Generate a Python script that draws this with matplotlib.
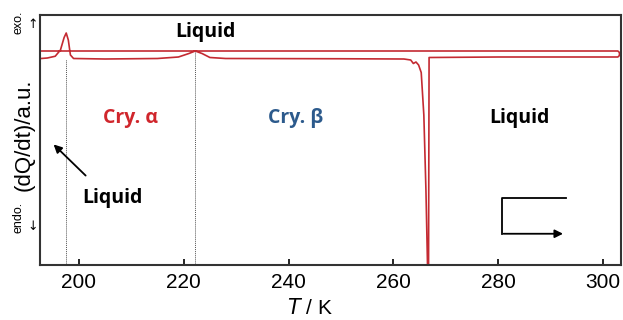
import matplotlib.pyplot as plt

# DSC trace (lower branch + loop back on upper branch), arbitrary units
temp = [192.8, 194.0, 195.5, 196.5, 197.2, 197.6, 198.0, 198.4, 199.0, 205.0, 215.0,
        219.0, 221.0, 222.2, 223.5, 225.0, 228.0, 250.0, 262.0, 263.3, 263.8, 264.3,
        264.8, 265.3, 265.8, 266.2, 266.5, 266.7, 266.8, 280.0, 302.8, 303.1, 303.1,
        302.8, 192.6]
signal = [0.826, 0.828, 0.835, 0.86, 0.91, 0.928, 0.90, 0.84, 0.826, 0.824, 0.826,
          0.832, 0.846, 0.856, 0.846, 0.830, 0.826, 0.825, 0.824, 0.82, 0.806, 0.812,
          0.800, 0.77, 0.6, 0.3, 0.0, 0.0, 0.83, 0.832, 0.832, 0.838, 0.850,
          0.856, 0.856]

transitions = [197.6, 222.2]
transition_tops = [0.826, 0.856]
xticks = [200, 220, 240, 260, 280, 300]

bold = ["Open Sans", "DejaVu Sans"]

fig = plt.figure(figsize=(6.23, 3.2), dpi=100)
ax = fig.add_axes([40 / 623, 55 / 320, 581 / 623, 250 / 320])

ax.plot(temp, signal, color="#c42a32", lw=1.2)
for t, top in zip(transitions, transition_tops):
    ax.plot([t, t], [0, top], color="#555555", lw=0.7, ls=(0, (1, 1)))

ax.set_xlim(192.6, 303.4)
ax.set_ylim(0, 1)
ax.set_yticks([])
ax.set_xticks(xticks)
ax.tick_params(axis="x", direction="in", length=4, width=1.2, labelsize=15, pad=6)
for lab in ax.get_xticklabels():
    lab.set_family("Liberation Sans")
for s in ax.spines.values():
    s.set_linewidth(1.5)
    s.set_color("#333333")

ax.set_xlabel(r"$\mathit{T}$ / K", fontsize=15, family="Liberation Sans", labelpad=0)
ax.xaxis.set_label_coords(0.465, -0.13)

# phase labels
ax.text(0.285, 0.93, "Liquid", transform=ax.transAxes, ha="center", va="center",
        fontsize=14, fontweight="bold", family=bold)
ax.text(0.155, 0.59, "Cry. α", transform=ax.transAxes, ha="center", va="center",
        fontsize=14, fontweight="bold", family=bold, color="#d0262c")
ax.text(0.44, 0.59, "Cry. β", transform=ax.transAxes, ha="center", va="center",
        fontsize=14, fontweight="bold", family=bold, color="#2c5a8c")
ax.text(0.826, 0.59, "Liquid", transform=ax.transAxes, ha="center", va="center",
        fontsize=14, fontweight="bold", family=bold)
ax.text(0.125, 0.27, "Liquid", transform=ax.transAxes, ha="center", va="center",
        fontsize=14, fontweight="bold", family=bold)
ax.annotate("", xy=(0.02, 0.49), xytext=(0.082, 0.35), xycoords="axes fraction",
            arrowprops=dict(arrowstyle="-|>", color="black", lw=1.3, mutation_scale=12))

# heating/cooling path sign
ax.plot([0.905, 0.795, 0.795], [0.27, 0.27, 0.125], color="black", lw=1.3,
        transform=ax.transAxes)
ax.annotate("", xy=(0.905, 0.125), xytext=(0.793, 0.125), xycoords="axes fraction",
            arrowprops=dict(arrowstyle="-|>", color="black", lw=1.3, mutation_scale=12))

# y-axis labelling
fig.text(24 / 623, 1 - 135 / 320, "(dQ/dt)/a.u.", rotation=90, ha="center", va="center",
         fontsize=16, family="Liberation Sans")
fig.text(18 / 623, 1 - 22 / 320, "exo.", rotation=90, ha="center", va="center",
         fontsize=9, family="Liberation Sans")
fig.text(33 / 623, 1 - 25 / 320, "↑", ha="center", va="center", fontsize=9,
         family="DejaVu Sans")
fig.text(18 / 623, 1 - 217 / 320, "endo.", rotation=90, ha="center", va="center",
         fontsize=9, family="Liberation Sans")
fig.text(33 / 623, 1 - 227 / 320, "↓", ha="center", va="center", fontsize=9,
         family="DejaVu Sans")

fig.savefig("out.png", dpi=100)
